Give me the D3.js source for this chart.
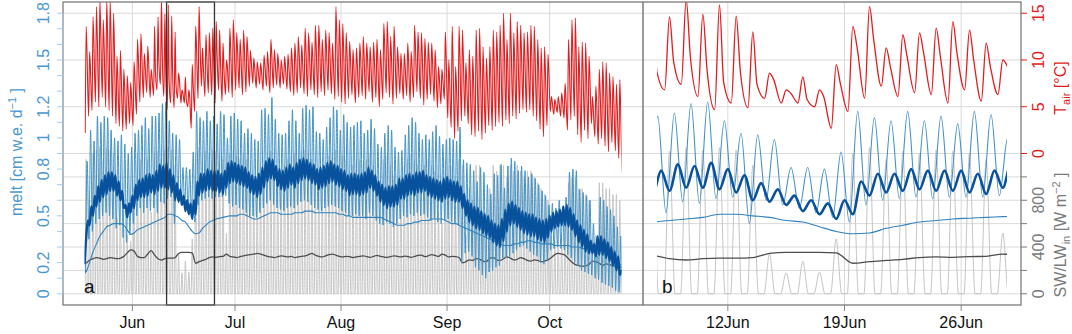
<!DOCTYPE html>
<html><head><meta charset="utf-8">
<script src="https://cdn.jsdelivr.net/npm/d3@7"></script>
<style>body{margin:0;background:#fff}svg{display:block;font-family:"Liberation Sans",Arial,Helvetica,sans-serif}</style>
</head><body><svg id="c" width="1072" height="334"></svg>
<script>
// ---------- data (one value per day, starting 18 May) ----------
const startDay = "2018-05-18";
const tairMax = [13.6,10.9,14.6,15.7,16.4,14.3,16.4,16.4,15.0,10.4,
 11.0,9.0,8.3,7.6,9.8,12.2,12.8,10.7,11.5,9.0,
 13.6,14.6,16.5,14.9,15.9,14.7,13.0,8.6,6.8,8.2,
 6.8,9.5,13.6,15.7,11.3,12.7,12.9,13.4,14.1,13.2,
 11.8,10.0,13.4,14.3,12.9,12.2,13.2,12.5,11.0,10.2,
 9.8,9.7,10.5,10.9,12.2,11.1,10.7,10.0,10.4,10.6,
 11.3,11.8,12.5,11.6,13.4,12.9,11.9,13.7,13.7,12.2,
 13.2,12.9,11.8,15.7,14.3,13.9,12.9,12.0,11.1,11.3,
 11.8,12.5,11.8,11.4,11.9,12.2,11.1,13.9,14.1,12.5,
 13.6,11.4,10.7,10.7,11.8,10.9,13.7,13.0,12.9,12.3,
 11.9,11.8,11.1,9.3,9.0,13.0,10.0,13.6,9.3,13.6,
 13.2,9.7,11.1,10.4,13.2,13.4,11.4,10.2,11.4,13.2,
 13.0,13.7,15.0,12.2,15.0,12.9,14.1,13.7,12.9,13.0,
 13.7,13.6,12.2,11.3,11.4,10.6,6.1,5.8,6.1,6.5,
 7.5,12.2,14.3,14.5,11.4,11.9,11.8,10.4,6.1,7.2,
 9.0,9.8,9.7,8.6,8.2,7.4,7.9,5.8];
const tairMin = [2.2,4.0,4.6,5.5,5.0,6.0,5.0,4.6,4.0,3.2,
 2.9,2.4,2.6,3.2,3.0,4.2,5.5,6.0,6.5,6.0,
 6.2,6.8,7.4,6.1,4.7,5.4,4.9,5.9,5.4,5.4,
 5.0,2.7,4.5,5.9,7.2,6.1,6.5,6.3,5.4,6.8,
 5.6,6.3,6.5,6.0,6.8,7.0,6.3,6.6,7.2,7.5,
 7.0,7.4,6.8,7.2,6.5,7.0,7.3,7.0,7.4,6.9,
 6.6,6.2,6.5,7.0,6.4,6.1,6.8,6.3,6.0,6.6,
 6.2,6.8,6.4,5.8,6.1,5.5,5.3,5.9,6.3,5.4,
 6.0,6.2,5.8,6.6,5.5,6.0,5.0,5.8,6.5,6.0,
 5.3,5.9,6.4,5.8,6.2,5.5,6.0,6.6,5.9,5.2,
 5.8,6.3,5.6,4.9,5.3,5.8,3.8,2.8,1.6,2.4,
 3.5,4.0,3.2,2.0,1.8,2.4,1.5,2.2,3.0,2.5,
 2.9,3.3,2.9,3.6,3.2,4.0,3.7,4.3,4.7,4.4,
 4.7,4.0,3.5,2.6,1.8,3.0,4.5,4.2,4.4,4.0,
 3.8,2.5,3.6,4.0,2.0,1.2,2.5,1.6,3.2,1.8,
 1.0,1.6,0.8,0.2,1.2,0.3,-0.5,-2.2];
// evening air temperature, 7-28 June (finer detail of the zoomed period)
const tairEveningStart = "2018-06-07";
const tairEvening = [8.7,9.8,10.4,9.0,7.6,8.8,7.4,7.9,6.5,5.8,6.1,7.5,11.4,12.2,9.3,10.4,10.7,10.4,10.7,10.0,9.3,9.4];
const swMax = [1150,800,1200,1230,1250,1150,1250,1230,1200,650,
 900,550,500,450,900,1200,1150,1000,1150,700,
 1200,1220,1250,1230,1250,1230,1100,340,180,280,
 185,470,1200,1250,1150,1220,1200,1230,1220,1200,
 1150,520,1200,1230,1180,1150,1200,1150,1000,900,
 900,1000,1000,1150,1220,1150,1000,950,1100,1150,
 1180,1200,1150,1220,1230,1200,1150,1050,1000,900,
 1100,1180,1200,1230,1100,1180,1150,1050,1100,1150,
 1150,1100,1150,1200,1100,950,900,1150,1180,1100,
 1000,850,950,1100,1150,1200,1150,1100,1050,1100,
 1150,1100,1050,700,600,1150,1000,1100,800,1150,
 1100,500,900,800,1100,1100,700,600,900,1100,
 1050,1100,1100,1000,1100,1050,1100,1050,1000,1050,
 1050,1000,950,900,850,800,500,450,550,500,
 600,950,1000,1000,900,900,850,800,300,500,
 950,950,900,900,850,850,800,700];
const lwIn = [261,289,300,310,305,295,300,310,305,300,
 305,320,350,375,365,320,310,310,340,370,
 330,300,289,300,305,305,310,345,355,355,
 355,350,261,275,285,295,310,315,312,318,
 320,340,320,315,310,318,325,330,335,340,
 345,340,330,320,315,310,318,325,320,315,
 320,310,315,320,325,335,345,330,320,315,
 325,335,340,330,320,315,320,318,310,315,
 320,325,318,312,320,328,320,315,312,318,
 325,320,315,322,318,312,320,328,330,318,
 325,335,328,320,340,330,315,320,318,310,
 265,275,290,285,300,295,280,275,305,310,
 290,285,300,315,305,290,295,310,300,285,
 280,290,285,275,280,290,310,335,345,340,
 330,300,270,250,240,235,240,250,280,275,
 260,245,255,250,240,235,230,220];
const meltHourlyMax = [0.85,1.05,0.98,1.14,1.10,1.14,1.13,1.05,1.00,0.98,
 1.02,0.96,0.90,0.94,1.03,1.05,1.08,1.13,1.06,1.14,
 1.14,1.16,1.22,1.23,1.11,1.03,1.02,0.99,0.81,0.81,
 0.80,0.91,1.17,1.13,1.11,1.17,1.11,1.14,1.09,1.17,
 1.15,1.00,1.14,1.16,1.12,1.11,1.03,1.06,1.03,0.99,
 0.98,1.18,1.19,1.15,1.26,1.12,1.03,1.02,1.03,1.11,
 1.18,1.11,1.03,1.19,1.21,1.18,1.20,1.04,1.03,0.99,
 1.07,1.13,1.20,1.18,1.05,1.15,1.10,1.07,1.08,1.10,
 1.11,1.03,1.05,1.12,1.06,0.96,0.94,1.03,1.08,1.05,
 0.94,0.91,0.92,1.02,1.08,1.13,1.10,1.03,0.99,1.02,
 0.99,1.04,1.08,1.01,0.96,0.99,1.00,0.99,0.98,1.07,
 0.86,0.84,0.83,0.79,0.72,0.81,0.78,0.70,0.64,0.77,
 0.76,0.83,0.68,0.82,0.87,0.85,0.79,0.82,0.79,0.75,
 0.77,0.74,0.70,0.66,0.63,0.57,0.58,0.55,0.60,0.56,
 0.62,0.78,0.80,0.79,0.67,0.65,0.63,0.60,0.45,0.35,
 0.62,0.60,0.56,0.54,0.50,0.43,0.37,0.30];
const meltHourlyMin = [0.13,0.35,0.40,0.45,0.48,0.50,0.52,0.50,0.48,0.42,
 0.44,0.36,0.33,0.38,0.45,0.50,0.55,0.52,0.55,0.53,
 0.55,0.52,0.59,0.58,0.61,0.62,0.45,0.60,0.57,0.55,
 0.52,0.49,0.46,0.57,0.60,0.61,0.62,0.61,0.62,0.62,
 0.62,0.63,0.58,0.56,0.57,0.55,0.54,0.52,0.50,0.50,
 0.49,0.52,0.55,0.58,0.60,0.57,0.55,0.54,0.53,0.55,
 0.56,0.55,0.57,0.59,0.60,0.59,0.57,0.55,0.54,0.53,
 0.55,0.56,0.57,0.56,0.55,0.53,0.52,0.50,0.50,0.51,
 0.50,0.50,0.48,0.52,0.50,0.47,0.45,0.44,0.46,0.45,
 0.43,0.45,0.48,0.50,0.49,0.51,0.50,0.52,0.50,0.51,
 0.49,0.47,0.48,0.46,0.45,0.47,0.48,0.46,0.45,0.44,
 0.20,0.26,0.27,0.24,0.17,0.15,0.12,0.10,0.14,0.15,
 0.17,0.18,0.23,0.23,0.24,0.26,0.28,0.30,0.31,0.29,
 0.27,0.25,0.24,0.20,0.19,0.22,0.28,0.29,0.30,0.29,
 0.28,0.25,0.23,0.20,0.18,0.15,0.14,0.13,0.12,0.10,
 0.09,0.07,0.06,0.05,0.04,0.02,0.01,0.00];
const meltModelMidnight = [0.19,0.47,0.56,0.63,0.69,0.73,0.76,0.78,0.78,0.76,
 0.72,0.66,0.57,0.58,0.63,0.70,0.73,0.74,0.76,0.77,
 0.76,0.79,0.83,0.82,0.84,0.80,0.76,0.71,0.67,0.63,
 0.60,0.58,0.60,0.72,0.77,0.77,0.80,0.79,0.79,0.79,
 0.77,0.79,0.84,0.85,0.84,0.83,0.82,0.81,0.78,0.76,
 0.75,0.77,0.81,0.85,0.87,0.86,0.82,0.80,0.79,0.81,
 0.83,0.81,0.84,0.86,0.87,0.86,0.84,0.83,0.80,0.81,
 0.82,0.84,0.85,0.83,0.82,0.80,0.79,0.76,0.77,0.77,
 0.76,0.77,0.78,0.81,0.79,0.76,0.72,0.70,0.68,0.69,
 0.69,0.70,0.74,0.74,0.76,0.77,0.76,0.78,0.78,0.79,
 0.76,0.75,0.74,0.73,0.72,0.74,0.75,0.73,0.72,0.72,
 0.69,0.64,0.60,0.58,0.56,0.55,0.53,0.51,0.50,0.47,
 0.45,0.44,0.48,0.54,0.58,0.59,0.57,0.55,0.53,0.52,
 0.51,0.51,0.49,0.48,0.47,0.48,0.50,0.52,0.53,0.54,
 0.56,0.57,0.55,0.51,0.47,0.44,0.41,0.38,0.34,0.32,
 0.37,0.37,0.35,0.33,0.30,0.27,0.24,0.15];
const meltModelNoon = [0.36,0.44,0.50,0.56,0.59,0.62,0.64,0.66,0.66,0.63,
 0.60,0.55,0.49,0.52,0.55,0.60,0.62,0.62,0.63,0.65,
 0.64,0.66,0.68,0.68,0.67,0.65,0.60,0.59,0.57,0.53,
 0.51,0.48,0.51,0.63,0.65,0.66,0.67,0.66,0.66,0.65,
 0.64,0.68,0.71,0.72,0.71,0.70,0.69,0.68,0.65,0.64,
 0.62,0.64,0.68,0.72,0.74,0.73,0.69,0.67,0.66,0.68,
 0.70,0.68,0.71,0.73,0.74,0.73,0.71,0.70,0.67,0.68,
 0.69,0.71,0.72,0.70,0.69,0.67,0.66,0.63,0.64,0.64,
 0.63,0.64,0.65,0.68,0.66,0.63,0.59,0.57,0.55,0.56,
 0.56,0.57,0.61,0.61,0.63,0.64,0.63,0.65,0.65,0.66,
 0.63,0.62,0.61,0.60,0.59,0.61,0.62,0.60,0.59,0.59,
 0.55,0.50,0.46,0.44,0.42,0.41,0.39,0.37,0.36,0.33,
 0.31,0.30,0.34,0.40,0.44,0.45,0.43,0.41,0.39,0.38,
 0.37,0.37,0.35,0.34,0.33,0.36,0.40,0.42,0.43,0.44,
 0.44,0.43,0.41,0.37,0.33,0.30,0.27,0.26,0.26,0.24,
 0.25,0.25,0.23,0.21,0.18,0.15,0.12,0.12];
const meltSmooth = [0.14,0.20,0.27,0.32,0.37,0.40,0.43,0.44,0.45,0.45,
 0.45,0.44,0.41,0.38,0.39,0.41,0.42,0.43,0.44,0.45,
 0.46,0.47,0.48,0.49,0.51,0.51,0.50,0.49,0.47,0.46,
 0.43,0.40,0.385,0.39,0.42,0.44,0.46,0.47,0.48,0.485,
 0.49,0.495,0.50,0.50,0.50,0.51,0.51,0.50,0.49,0.48,
 0.48,0.49,0.50,0.51,0.52,0.52,0.52,0.51,0.51,0.51,
 0.51,0.52,0.52,0.52,0.53,0.53,0.53,0.52,0.52,0.52,
 0.52,0.52,0.52,0.52,0.51,0.51,0.50,0.50,0.49,0.49,
 0.49,0.49,0.49,0.49,0.49,0.49,0.49,0.48,0.47,0.46,
 0.45,0.44,0.44,0.44,0.45,0.45,0.46,0.46,0.47,0.47,
 0.47,0.48,0.48,0.48,0.48,0.47,0.46,0.45,0.45,0.44,
 0.43,0.42,0.41,0.40,0.39,0.38,0.37,0.36,0.35,0.34,
 0.33,0.32,0.31,0.31,0.31,0.32,0.32,0.33,0.33,0.34,
 0.34,0.33,0.33,0.32,0.32,0.32,0.32,0.31,0.31,0.31,
 0.31,0.31,0.30,0.30,0.30,0.29,0.29,0.29,0.28,0.28,
 0.28,0.27,0.26,0.25,0.23,0.21,0.19,0.18];
// hour of day at which each daily value applies
const tairMinHour = 5, tairMaxHour = 12, tairEveningHour = 18;
const meltMinHour = 7, meltMaxHour = 19;
const modelMidnightHour = 0, modelNoonHour = 12;
const swRiseHour = 4, swPeakHour = 12, swSetHour = 20;
const dailyHour = 12;
// periods
const periodA = ["2018-05-18T00:00Z", "2018-10-22T00:00Z"];
const periodB = ["2018-06-07T18:00Z", "2018-06-28T18:00Z"];
const boxPeriod = ["2018-06-11", "2018-06-25"];
// tick labels
const monthTicks = ["2018-06-01","2018-07-01","2018-08-01","2018-09-01","2018-10-01"];
const monthLabels = ["Jun","Jul","Aug","Sep","Oct"];
const zoomTicks = ["2018-06-12","2018-06-19","2018-06-26"];
const zoomLabels = ["12Jun","19Jun","26Jun"];
const meltTicks = [0,0.1,0.2,0.3,0.4,0.5,0.6,0.7,0.8,0.9,1,1.1,1.2,1.3,1.4,1.5,1.6,1.7,1.8];
const meltLabels = [0,0.2,0.5,0.8,1,1.2,1.5,1.8];
const tairTicks = [0,5,10,15];
const swTicks = [0,200,400,600,800,1000];
const swLabels = [0,400,800];

// ---------- layout ----------
const svg = d3.select("#c");
const pTop = 2, pBottom = 305, pLeft = 63, pMid = 643, pRight = 1021;
const DAY = 864e5;
const d0 = new Date(startDay + "T00:00Z").getTime();
const dt = d => new Date(d0 + d * DAY);
function padded(p) { const a = new Date(p[0]).getTime(), b = new Date(p[1]).getTime(), pd = (b - a) * 0.04; return [new Date(a - pd), new Date(b + pd)]; }
const xA = d3.scaleUtc().domain(padded(periodA)).range([pLeft, pMid]);
const xB = d3.scaleUtc().domain(padded(periodB)).range([pMid, pRight]);
const yMelt = d3.scaleLinear().domain([-0.072, 1.872]).range([pBottom, pTop]);
const yT = d3.scaleLinear().domain([-16.2, 16.2]).range([pBottom, pTop]);
const ySW = d3.scaleLinear().domain([-96, 2496]).range([pBottom, pTop]);

const C = { red:"#e41a1c", sw:"#c4c4c4", lw:"#4d4d4d", thin:"#4292c6", smooth:"#3182bd", dark:"#08519c",
  grid:"#dadada", frame:"#707070", axBlue:"#4a98d3", axBlueTick:"#a9cbe8", axGray:"#7a7a7a" };

function series(pairs) {
  const out = [];
  for (let i = 0; i < tairMax.length; i++) for (const [arr, h] of pairs) out.push({ t: dt(i + h / 24), v: arr === 0 ? 0 : arr[i] });
  return out;
}
// air temperature with the extra evening values inside the zoom period
const eveOffset = Math.round((new Date(tairEveningStart + "T00:00Z").getTime() - d0) / DAY);
const sTair = [];
for (let i = 0; i < tairMax.length; i++) {
  sTair.push({ t: dt(i + tairMinHour / 24), v: tairMin[i] });
  sTair.push({ t: dt(i + tairMaxHour / 24), v: tairMax[i] });
  const k = i - eveOffset;
  if (k >= 0 && k < tairEvening.length) sTair.push({ t: dt(i + tairEveningHour / 24), v: tairEvening[k] });
}
const sSW = series([[0, swRiseHour], [swMax, swPeakHour], [0, swSetHour]]);
const sLW = series([[lwIn, dailyHour]]);
const sThin = series([[meltHourlyMin, meltMinHour], [meltHourlyMax, meltMaxHour]]);
const sDark = series([[meltModelMidnight, modelMidnightHour], [meltModelNoon, modelNoonHour]]);
const sSmooth = series([[meltSmooth, dailyHour]]);

// grid
const grid = svg.append("g").attr("stroke", C.grid).attr("stroke-width", 1);
tairTicks.forEach(v => grid.append("line").attr("x1", pLeft).attr("x2", pRight).attr("y1", yT(v)).attr("y2", yT(v)));
swTicks.forEach(v => grid.append("line").attr("x1", pLeft).attr("x2", pRight).attr("y1", ySW(v)).attr("y2", ySW(v)));
monthTicks.forEach(d => grid.append("line").attr("x1", xA(new Date(d))).attr("x2", xA(new Date(d))).attr("y1", pTop).attr("y2", pBottom));
zoomTicks.forEach(d => grid.append("line").attr("x1", xB(new Date(d))).attr("x2", xB(new Date(d))).attr("y1", pTop).attr("y2", pBottom));

// clips
const defs = svg.append("defs");
function clip(id, x, p) {
  defs.append("clipPath").attr("id", id).append("rect")
    .attr("x", x(new Date(p[0]))).attr("y", pTop).attr("width", x(new Date(p[1])) - x(new Date(p[0]))).attr("height", pBottom - pTop);
}
clip("cA", xA, periodA); clip("cB", xB, periodB);

function panel(x, clipId, p, wThin, wDark, wRed) {
  const lo = new Date(new Date(p[0]).getTime() - DAY), hi = new Date(new Date(p[1]).getTime() + DAY);
  const f = s => s.filter(d => d.t >= lo && d.t <= hi);
  const g = svg.append("g").attr("clip-path", `url(#${clipId})`).attr("fill", "none").attr("stroke-linejoin", "round");
  const line = y => d3.line().x(d => x(d.t)).y(d => y(d.v)).curve(d3.curveMonotoneX);
  g.append("path").attr("d", line(ySW)(f(sSW))).attr("stroke", C.sw).attr("stroke-width", 1);
  g.append("path").attr("d", line(ySW)(f(sLW))).attr("stroke", C.lw).attr("stroke-width", 1.3);
  g.append("path").attr("d", line(yMelt)(f(sThin))).attr("stroke", C.thin).attr("stroke-width", wThin);
  g.append("path").attr("d", line(yMelt)(f(sSmooth))).attr("stroke", C.smooth).attr("stroke-width", 1.1);
  g.append("path").attr("d", line(yMelt)(f(sDark))).attr("stroke", C.dark).attr("stroke-width", wDark);
  g.append("path").attr("d", line(yT)(f(sTair))).attr("stroke", C.red).attr("stroke-width", wRed);
}
panel(xA, "cA", periodA, 1, 2.4, 1.1);
panel(xB, "cB", periodB, 1.1, 2.6, 1.3);

// zoom box in panel a
svg.append("rect").attr("x", xA(new Date(boxPeriod[0]))).attr("y", pTop).attr("width", xA(new Date(boxPeriod[1])) - xA(new Date(boxPeriod[0])))
  .attr("height", pBottom - pTop).attr("fill", "none").attr("stroke", "#333").attr("stroke-width", 1.3);

// frame
svg.append("rect").attr("x", pLeft).attr("y", pTop).attr("width", pRight - pLeft).attr("height", pBottom - pTop)
  .attr("fill", "none").attr("stroke", C.frame).attr("stroke-width", 1.2);
svg.append("line").attr("x1", pMid).attr("x2", pMid).attr("y1", pTop).attr("y2", pBottom).attr("stroke", C.frame).attr("stroke-width", 1.4);

// bottom axes
const fs = "16px";
function bottomAxis(x, ticks, labels) {
  ticks.forEach((d, k) => {
    const xx = x(new Date(d));
    svg.append("line").attr("x1", xx).attr("x2", xx).attr("y1", pBottom).attr("y2", pBottom + 6).attr("stroke", "#888");
    svg.append("text").attr("x", xx).attr("y", 328).attr("text-anchor", "middle").style("font-size", fs).attr("fill", "#111").text(labels[k]);
  });
}
bottomAxis(xA, monthTicks, monthLabels);
bottomAxis(xB, zoomTicks, zoomLabels);

// left melt axis
svg.append("line").attr("x1", pLeft).attr("x2", pLeft).attr("y1", yMelt(0)).attr("y2", yMelt(1.8)).attr("stroke", C.axBlueTick);
meltTicks.forEach(v => svg.append("line").attr("x1", pLeft - 6).attr("x2", pLeft).attr("y1", yMelt(v)).attr("y2", yMelt(v)).attr("stroke", C.axBlueTick));
meltLabels.forEach(v => svg.append("text").attr("transform", `translate(48.5,${yMelt(v)}) rotate(-90)`).attr("text-anchor", "middle")
  .style("font-size", fs).attr("fill", C.axBlue).text(v));
const lt = svg.append("text").attr("transform", "translate(22,152) rotate(-90)").attr("text-anchor", "middle").style("font-size", fs).attr("fill", C.axBlue);
lt.append("tspan").text("melt [cm w.e. d");
lt.append("tspan").attr("dy", -6).style("font-size", "11px").text("−1");
lt.append("tspan").attr("dy", 6).text(" ]");

// right axes
tairTicks.forEach(v => {
  svg.append("line").attr("x1", pRight).attr("x2", pRight + 6).attr("y1", yT(v)).attr("y2", yT(v)).attr("stroke", C.red);
  svg.append("text").attr("transform", `translate(1044,${yT(v)}) rotate(-90)`).attr("text-anchor", "middle").style("font-size", fs).attr("fill", C.red).text(v);
});
swTicks.forEach(v => svg.append("line").attr("x1", pRight).attr("x2", pRight + 6).attr("y1", ySW(v)).attr("y2", ySW(v)).attr("stroke", C.axGray));
swLabels.forEach(v => svg.append("text").attr("transform", `translate(1044,${ySW(v)}) rotate(-90)`).attr("text-anchor", "middle").style("font-size", fs).attr("fill", C.axGray).text(v));
const rt = svg.append("text").attr("transform", "translate(1066,88) rotate(-90)").attr("text-anchor", "middle").style("font-size", fs).attr("fill", C.red);
rt.append("tspan").text("T");
rt.append("tspan").attr("dy", 4).style("font-size", "11px").text("air");
rt.append("tspan").attr("dy", -4).text(" [°C]");
const rs = svg.append("text").attr("transform", "translate(1066,235) rotate(-90)").attr("text-anchor", "middle").style("font-size", fs).attr("fill", C.axGray);
rs.append("tspan").text("SW/LW");
rs.append("tspan").attr("dy", 4).style("font-size", "11px").text("in");
rs.append("tspan").attr("dy", -4).text(" [W  m");
rs.append("tspan").attr("dy", -6).style("font-size", "11px").text("−2");
rs.append("tspan").attr("dy", 6).text(" ]");

// panel letters
svg.append("text").attr("x", 84).attr("y", 293).style("font-size", "19px").attr("fill", "#111").text("a");
svg.append("text").attr("x", 662).attr("y", 293).style("font-size", "19px").attr("fill", "#111").text("b");
</script></body></html>
